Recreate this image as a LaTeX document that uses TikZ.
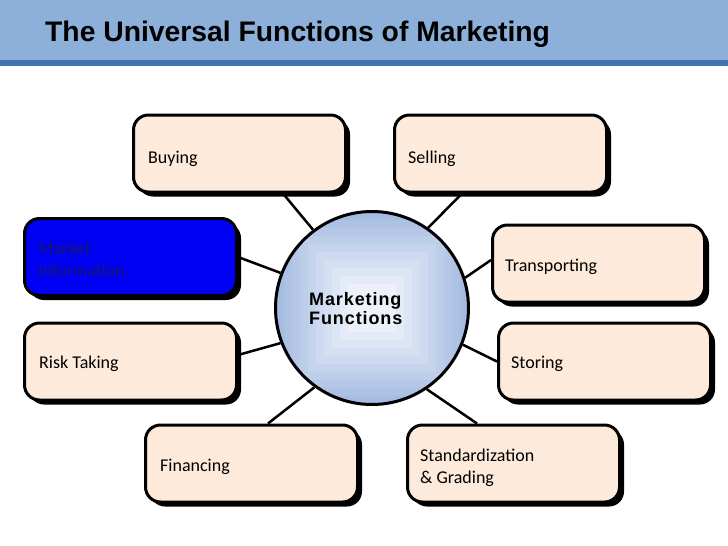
\documentclass[tikz,border=0pt]{standalone}
\usepackage{fontspec}
\setmainfont{Carlito}
\newfontfamily\arialfont{Liberation Sans}
\newfontfamily\mffont{Liberation Sans}[LetterSpace=5]
\usetikzlibrary{shadows,calc,backgrounds}
\definecolor{peach}{RGB}{253,234,218}
\definecolor{infoblue}{RGB}{0,0,245}
\definecolor{infotext}{RGB}{25,25,100}
\definecolor{barblue}{RGB}{141,176,218}
\definecolor{bardark}{RGB}{66,114,180}
\definecolor{mfedge}{RGB}{158,182,222}
\definecolor{mfcenter}{RGB}{236,241,250}
\tikzset{
  fbox/.style={draw=black, line width=3pt, rounded corners=15pt, fill=peach,
    minimum width=212pt, minimum height=77pt, inner sep=0pt,
    drop shadow={shadow xshift=4.5pt, shadow yshift=-4.5pt, fill=black, opacity=1}},
  lbl/.style={anchor=base west, inner sep=0pt, align=left,
    font=\fontsize{18}{22}\selectfont},
  conn/.style={draw=black, line width=2.5pt},
}
\begin{document}
\begin{tikzpicture}[x=1pt, y=-1pt, line join=round]
\useasboundingbox (0,0) rectangle (728,546);
% title bar
\fill[barblue] (0,0) rectangle (728,60);
\fill[bardark] (0,60) rectangle (728,66);
\node[anchor=base west, inner sep=0pt, font=\arialfont\bfseries\fontsize{28.3}{33}\selectfont] (title) at (45,41) {The Universal Functions of Marketing};

% boxes
\node[fbox] (buy) at (239.5,153.5) {};
\node[fbox] (sel) at (500.5,153.5) {};
\node[fbox, fill=infoblue] (mi) at (130.5,257) {};
\node[fbox] (tr) at (598.5,263.5) {};
\node[fbox] (risk) at (130.5,361.5) {};
\node[fbox] (st) at (604.5,361.5) {};
\node[fbox] (fin) at (251.5,463.5) {};
\node[fbox] (std) at (513.5,463.5) {};

% box texts (base = baseline of the last line)
\node[lbl] (buyT) at (148,163.3) {Buying};
\node[lbl] (selT) at (408,163.3) {Selling};
\node[lbl, text=infotext] (miT) at (38,276.3) {Market\\Information};
\node[lbl] (trT) at (505,271.5) {Transporting};
\node[lbl] (riskT) at (39,368) {Risk Taking};
\node[lbl] (stT) at (511,368.3) {Storing};
\node[lbl] (finT) at (160,471.5) {Financing};
\node[lbl] (stdT) at (420,483.5) {Standardization\\\& Grading};

% centre circle
\node[circle, draw=black, line width=3pt, minimum size=193pt, inner sep=0pt,
  path picture={
    \foreach \k in {0,...,24} {
      \pgfmathtruncatemacro\s{100-\k*4}
      \pgfmathtruncatemacro\m{min(100,\k*5+mod(\k,2)*4)}
      \fill[mfcenter!\m!mfedge]
        ($(path picture bounding box.center)+(-\s pt,-\s pt)$) rectangle
        ($(path picture bounding box.center)+(\s pt,\s pt)$);
    }
  }] (mf) at (372,308) {};
\node[anchor=west, inner sep=0pt, align=left,
  font=\mffont\bfseries\fontsize{18}{19}\selectfont] (mflabel) at (309,309) {Marketing\\Functions};

% connectors
\begin{scope}[on background layer]
\draw[conn] ([xshift=43.5pt]buy.south) -- (mf.127);
\draw[conn] ([xshift=-38.5pt]sel.south) -- (mf.55.5);
\draw[conn] (mi.east) -- (mf.159);
\draw[conn] ([yshift=6.5pt]risk.east) -- (mf.201.5);
\draw[conn] ([yshift=3.5pt]tr.west) -- (mf.18.8);
\draw[conn] (st.west) -- (mf.-22);
\draw[conn] ([xshift=16.5pt]fin.north) -- (mf.234.3);
\draw[conn] ([xshift=-36.5pt]std.north) -- (mf.304.3);
\end{scope}
\end{tikzpicture}
\end{document}
